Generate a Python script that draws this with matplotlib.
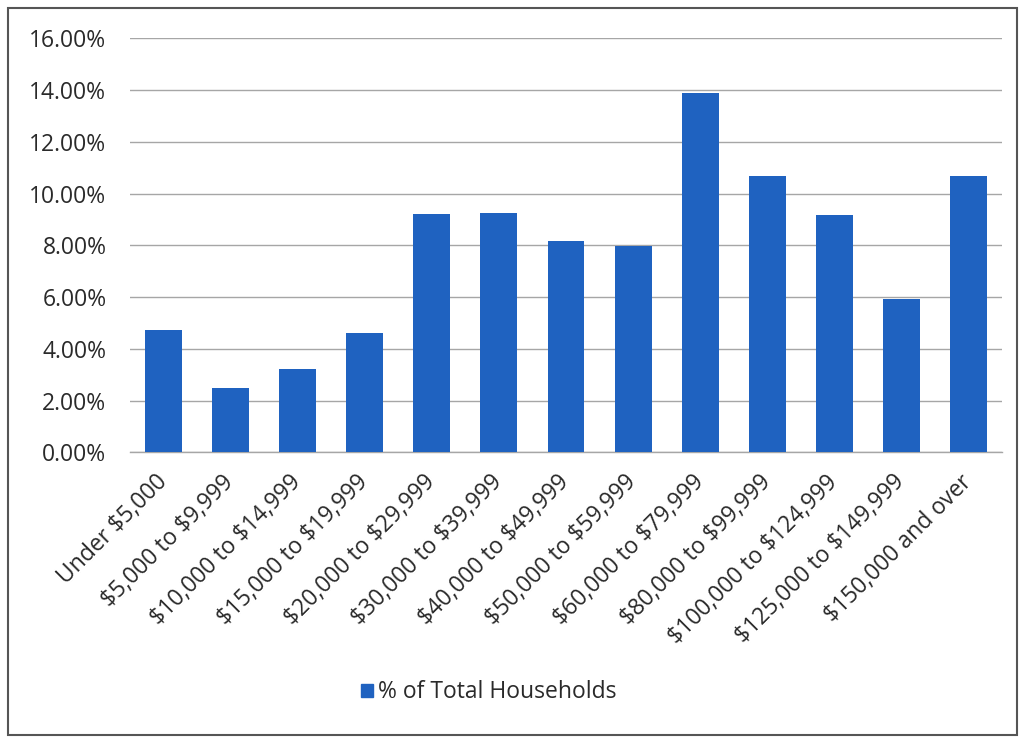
import matplotlib.pyplot as plt
from matplotlib.patches import Rectangle, Patch
from matplotlib.ticker import FuncFormatter

plt.rcParams['font.family'] = ['Open Sans', 'DejaVu Sans']
plt.rcParams['text.parse_math'] = False

categories = ["Under $5,000", "$5,000 to $9,999", "$10,000 to $14,999",
              "$15,000 to $19,999", "$20,000 to $29,999", "$30,000 to $39,999",
              "$40,000 to $49,999", "$50,000 to $59,999", "$60,000 to $79,999",
              "$80,000 to $99,999", "$100,000 to $124,999",
              "$125,000 to $149,999", "$150,000 and over"]
pct_households = [4.72, 2.49, 3.22, 4.62, 9.20, 9.25, 8.17, 7.97,
                  13.89, 10.67, 9.19, 5.92, 10.67]
y_ticks = [0, 2, 4, 6, 8, 10, 12, 14, 16]

BLUE = '#1f62c0'
TXT = '#2a2a2a'
FS = 16.5

fig = plt.figure(figsize=(10.19, 7.38), dpi=100)
ax = fig.add_axes([0.1276, 0.3871, 0.8557, 0.5609])

x = range(len(categories))
ax.bar(x, pct_households, width=0.55, color=BLUE, zorder=3)

ax.set_xlim(-0.5, len(categories) - 0.5)
ax.set_ylim(0, 16)
ax.set_yticks(y_ticks)
ax.yaxis.set_major_formatter(FuncFormatter(lambda v, p: f"{v:.2f}%"))
ax.grid(axis='y', color='#a6a6a6', linewidth=1.0, zorder=0)

for s in ['top', 'right', 'left']:
    ax.spines[s].set_visible(False)
ax.spines['bottom'].set_color('#a6a6a6')
ax.spines['bottom'].set_linewidth(1.0)

ax.set_xticks(list(x))
ax.set_xticklabels(categories, rotation=45, ha='right', va='center',
                   rotation_mode='anchor', fontsize=FS, color=TXT)
ax.tick_params(axis='x', length=0, pad=19)
ax.tick_params(axis='y', length=0, pad=17, labelsize=FS, labelcolor=TXT)

fig.legend(handles=[Patch(color=BLUE, label='% of Total Households')],
           loc='center', bbox_to_anchor=(0.48, 0.062), frameon=False,
           fontsize=FS, handlelength=0.5, handleheight=0.5,
           handletextpad=0.25, labelcolor=TXT)

# outer frame around the chart
fig.patches.append(Rectangle((0.008, 0.004), 0.99, 0.985,
                             transform=fig.transFigure, fill=False,
                             edgecolor='#555555', linewidth=1.5))

plt.savefig('out.png', dpi=100)
